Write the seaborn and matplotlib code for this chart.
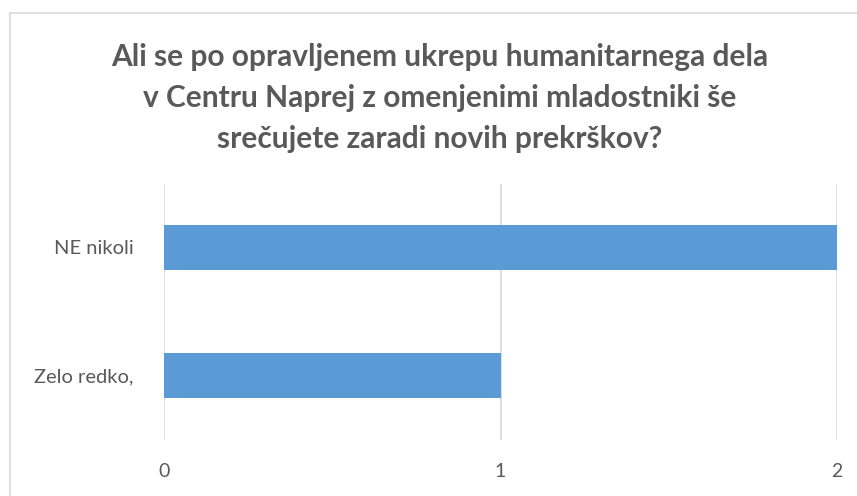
import matplotlib
matplotlib.use("Agg")
import matplotlib.pyplot as plt
import seaborn as sns
import pandas as pd
from matplotlib.patches import Rectangle

# données
categories = ["NE nikoli", "Zelo redko,"]
values = [2, 1]
x_ticks = [0, 1, 2]

title = ("Ali se po opravljenem ukrepu humanitarnega dela\n"
         "v Centru Naprej z omenjenimi mladostniki še\n"
         "srečujete zaradi novih prekrškov?")

sns.set_theme(style="white")
plt.rcParams["font.family"] = ["Lato", "DejaVu Sans"]

df = pd.DataFrame({"odgovor": categories, "stevilo": values})

fig = plt.figure(figsize=(8.57, 4.96), dpi=100)
ax = fig.add_axes([164 / 857, 1 - 439.5 / 496, (837 - 164) / 857, (439.5 - 183.5) / 496])

for xv in x_ticks:
    ax.axvline(xv, color="#D9D9D9", lw=1.2, zorder=0)

sns.barplot(data=df, x="stevilo", y="odgovor", color="#5B9BD5", width=0.35,
            saturation=1, linewidth=0, ax=ax, zorder=2)

ax.set_xlim(0, 2)
ax.set_ylim(1.5, -0.5)
ax.set_xticks(x_ticks)
ax.set_xlabel("")
ax.set_ylabel("")
for s in ax.spines.values():
    s.set_visible(False)
ax.tick_params(axis="x", length=0, pad=17, labelsize=14, labelcolor="#595959")
ax.tick_params(axis="y", length=0, pad=22, labelsize=14.5, labelcolor="#595959")

fig.text(0.513, 1 - 98 / 496, title, ha="center", va="center", fontsize=21.5,
         fontweight="bold", color="#595959", linespacing=1.55)

# cadre du graphique
fig.patches.append(Rectangle((10 / 857, -0.1), 1.2, 1 - 13 / 496 + 0.1,
                             transform=fig.transFigure, fill=False,
                             edgecolor="#D9D9D9", lw=1.2))

fig.savefig("out.png", dpi=100)
